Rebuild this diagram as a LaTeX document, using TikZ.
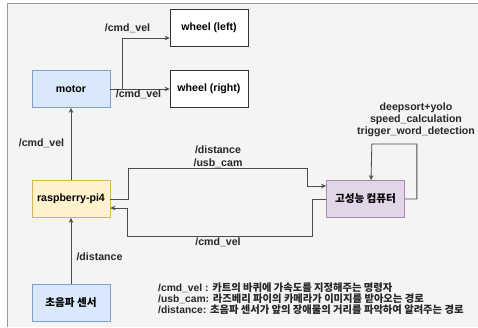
\documentclass[tikz,border=0pt]{standalone}
\usepackage{fontspec}
\setmainfont{Liberation Sans}
\newfontfamily\kr{Noto Sans CJK KR}
\usetikzlibrary{arrows.meta}
\definecolor{bgGray}{HTML}{F4F4F4}
\definecolor{frameGray}{HTML}{9A9A9A}
\definecolor{blueFill}{HTML}{DAE8FC}
\definecolor{blueLine}{HTML}{6C8EBF}
\definecolor{yelFill}{HTML}{FFF2CC}
\definecolor{yelLine}{HTML}{D6B656}
\definecolor{purFill}{HTML}{E1D5E7}
\definecolor{purLine}{HTML}{9673A6}
\newcommand{\K}[1]{{\kr #1}}
\tikzset{
  box/.style={draw, line width=0.7pt, minimum width=78pt, minimum height=37pt, inner sep=0pt,
    font=\fontsize{10.6}{12}\selectfont\bfseries},
  bluebox/.style={box, fill=blueFill, draw=blueLine!85},
  yelbox/.style={box, fill=yelFill, draw=yelLine},
  purbox/.style={box, fill=purFill, draw=purLine!85},
  whitebox/.style={box, fill=white, draw=black!80},
  conn/.style={draw=black!70, line width=0.85pt, -{Stealth[length=5pt,width=4.5pt]}},
  lbl/.style={font=\fontsize{10.6}{12}\selectfont\bfseries, inner sep=0pt, text=black!85},
}
\begin{document}
\begin{tikzpicture}[x=1pt,y=-1pt]
\useasboundingbox (0,0) rectangle (478,327);
\fill[white] (0,0) rectangle (478,327);
\fill[bgGray] (7,3) rectangle (478,327);
\draw[frameGray, line width=0.9pt] (7,327) -- (7,3) -- (478,3);

\node[whitebox] (wheelL) at (209,27.5) {wheel (left)};
\node[whitebox] (wheelR) at (209,89) {wheel (right)};
\node[bluebox] (motor) at (71,89) {motor};
\node[yelbox] (rpi) at (71,199) {raspberry-pi4};
\node[purbox] (comp) at (365.5,199) {\K{고성능 컴퓨터}};
\node[bluebox] (sensor) at (71,303) {\K{초음파 센서}};

\draw[conn] (motor.east) -- (wheelR.west);
\draw[conn] ([xshift=12pt]motor.east) |- ([yshift=-10.5pt]wheelL.west);
\draw[conn] (rpi.north) -- (motor.south);
\draw[conn] (sensor.north) -- (rpi.south);
\draw[conn] (rpi.east) -- ++(18,0) -- ++(0,-31) -- ++(179,0) -- ++(0,18) -- ([yshift=13pt]comp.west);
\draw[conn] (comp.west) -- ++(-14,0) -- ++(0,37) -- ++(-185,0) -- ++(0,-28) -- ([yshift=-9pt]rpi.east);
\draw[conn] (comp.east) -- ++(12,0) -- ++(0,-55) -- ++(-45,0) -- ([xshift=5.5pt]comp.north);

\node[lbl] (l1) at (127.5,28) {/cmd\_vel};
\node[lbl] (l2) at (138.5,94.5) {/cmd\_vel};
\node[lbl] (l3) at (41.5,143) {/cmd\_vel};
\node[lbl] (l4) at (218,150) {/distance};
\node[lbl] (l5) at (218,163) {/usb\_cam};
\node[lbl] (l6) at (218,242) {/cmd\_vel};
\node[lbl] (l7) at (99.5,257) {/distance};
\node[lbl] (l8) at (416,108) {deepsort+yolo};
\node[lbl] (l9) at (416,120) {speed\_calculation};
\node[lbl] (l10) at (416,131.5) {trigger\_word\_detection};

\node[anchor=west, align=left, inner sep=0pt, text=black!85,
  font=\fontsize{10.3}{11}\selectfont\bfseries] (legend) at (158,299)
  {/cmd\_vel : \K{카트의 바퀴에 가속도를 지정해주는 명령자}\\
   /usb\_cam: \K{라즈베리 파이의 카메라가 이미지를 받아오는 경로}\\
   /distance: \K{초음파 센서가 앞의 장애물의 거리를 파악하여 알려주는 경로}};
\end{tikzpicture}
\end{document}
